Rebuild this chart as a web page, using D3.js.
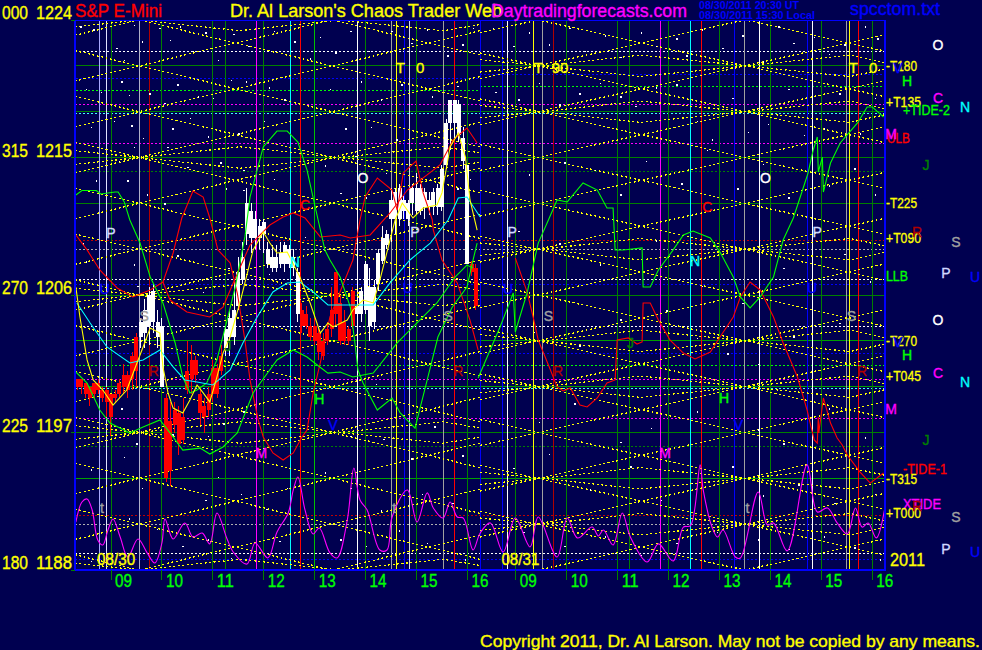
<!DOCTYPE html>
<html><head><meta charset="utf-8">
<script src="https://cdn.jsdelivr.net/npm/d3@7"></script>
<style>html,body{margin:0;padding:0;background:#000050;overflow:hidden}svg{display:block}text{font-family:"Liberation Sans",Arial,sans-serif}</style>
</head><body><svg id="c" width="982" height="650"></svg>
<script>
// session hour axis: 0 = 09:00 on 08/30, 7.95 = 09:00 on 08/31
const hourTicks = [0,1,2,3,4,5,6,7,7.95,8.95,9.95,10.95,11.95,12.95,13.95,14.95];
const hourLabels = ["09","10","11","12","13","14","15","16","09","10","11","12","13","14","15","16"];
const priceTicks = [1224,1215,1206,1197,1188];
const angleLabels = ["000","315","270","225","180"];

// horizontal levels [price, colour, dotted?, fromHour, toHour]
const solidLevels = [1221,1218,1215,1212,1206,1203,1200,1197,1194];
const solidLevelGreens = ["#008000","#008000","#008000","#008000","#008000","#00a000","#00a000","#008000","#00a000"];
const dottedLevels = [
 [1221.91,"#ffffff"],[1220.17,"#0000ff",-1,7.25],[1220.43,"#0000ff",7.25,16],[1219.39,"#00ff00",-1,7.25],[1219.62,"#00ff00",7.25,16],
 [1218.47,"#ff00ff"],[1217.9,"#40ffff"],[1215.92,"#ff00ff"],[1214.1,"#008000"],[1209.58,"#c00000"],[1209,"#b0b0b0"],
 [1207.01,"#ffffff"],[1206.68,"#0000ff"],[1203.91,"#ffffff"],[1202.18,"#0000ff"],[1201.4,"#00ff00"],[1200.48,"#ff00ff"],
 [1199.9,"#40ffff"],[1197.91,"#ff00ff"],[1196.1,"#008000"],[1191.6,"#c00000"],[1191,"#b0b0b0"],[1189.05,"#ffffff"],[1188.72,"#0000ff"]];

// vertical event lines
const eventHours = [-0.23,-0.09,0.55,0.76,2.25,2.86,3.52,3.72,4.84,5.51,5.61,5.76,5.86,6.52,6.74,7.25,7.69,7.78,8.30,8.47,8.69,10.19,10.79,11.38,11.60,12.25,12.44,12.74,13.68,13.78,14.45,14.51,14.68];
const eventColours = ["#a8a8ff","#e0e0ff","#b0b0c8","#b00000","#008000","#ff00ff","#00ffff","#ff0000","#ffffff","#a0a0a0","#ffff00","#0000ff","#d8d8e8","#a0a0a0","#ff0000","#0000ff","#0000ff","#ffffff","#ffff00","#a0a0a0","#b00000","#008000","#ff00ff","#00ffff","#ff0000","#0000ff","#a0a0a0","#ffffff","#0000ff","#ffffff","#a0a0a0","#ffff00","#ff0000"];

// yellow angle lattice, [price at section start, price at section end]
const sectionLeft = [-0.71,7.25], sectionRight = [7.25,15.2];
const fallLeft = [[1231,1224.7],[1228,1221.7],[1225,1218.7],[1222,1215.7],[1219,1212.7],[1216,1209.7],[1213,1206.7],[1210,1203.7],[1207,1200.7],[1204,1197.7],[1201,1194.7],[1198,1191.7],[1195,1188.7],[1192,1185.7],[1189,1182.7]];
const riseLeft = [[1229,1235.3],[1226,1232.3],[1223,1229.3],[1220,1226.3],[1217,1223.3],[1214,1220.3],[1211,1217.3],[1208,1214.3],[1205,1211.3],[1202,1208.3],[1199,1205.3],[1196,1202.3],[1193,1199.3],[1190,1196.3],[1187,1193.3],[1184,1190.3]];
const fallRight = [[1233.84,1227.97],[1230.84,1224.97],[1227.84,1221.97],[1224.84,1218.97],[1221.84,1215.97],[1218.84,1212.97],[1215.84,1209.97],[1212.84,1206.97],[1209.84,1203.97],[1206.84,1200.97],[1203.84,1197.97],[1200.84,1194.97],[1197.84,1191.97],[1194.84,1188.97],[1191.84,1185.97]];
const riseRight = [[1226.16,1232.03],[1223.16,1229.03],[1220.16,1226.03],[1217.16,1223.03],[1214.16,1220.03],[1211.16,1217.03],[1208.16,1214.03],[1205.16,1211.03],[1202.16,1208.03],[1199.16,1205.03],[1196.16,1202.03],[1193.16,1199.03],[1190.16,1196.03],[1187.16,1193.03],[1184.16,1190.03]];
// flatter yellow zigzags
const zigHoursLeft = [-0.71,0.55,2.53,4.48,6.52,7.25];
const zigHoursRight = [7.25,8.47,10.39,12.46,14.51,15.2];
const zigLeft = [
 [1224.45,1224,1224.7,1224,1224.7,1224.3],[1223.55,1224,1223.3,1224,1223.3,1223.7],
 [1215.45,1215,1215.7,1215,1215.7,1215.3],[1214.55,1215,1214.3,1215,1214.3,1214.7],
 [1206.45,1206,1206.7,1206,1206.7,1206.3],[1205.55,1206,1205.3,1206,1205.3,1205.7],
 [1197.45,1197,1197.7,1197,1197.7,1197.3],[1196.55,1197,1196.3,1197,1196.3,1196.7],
 [1188.45,1188,1188.7,1188,1188.7,1188.3],[1187.55,1188,1187.3,1188,1187.3,1187.7]];
const zigRight = [
 [1221.4,1221,1221.7,1221,1221.7,1221.2],[1220.6,1221,1220.3,1221,1220.3,1220.8],
 [1218.4,1218,1218.7,1218,1218.7,1218.2],[1217.6,1218,1217.3,1218,1217.3,1217.8],
 [1209.4,1209,1209.7,1209,1209.7,1209.2],[1208.6,1209,1208.3,1209,1208.3,1208.8],
 [1203.4,1203,1203.7,1203,1203.7,1203.2],[1202.6,1203,1202.3,1203,1202.3,1202.8],
 [1200.4,1200,1200.7,1200,1200.7,1200.2],[1199.6,1200,1199.3,1200,1199.3,1199.8],
 [1194.4,1194,1194.7,1194,1194.7,1194.2],[1193.6,1194,1193.3,1194,1193.3,1193.8],
 [1191.4,1191,1191.7,1191,1191.7,1191.2],[1190.6,1191,1190.3,1191,1190.3,1190.8]];

// scattered white marks [hour, price]
const dots = [[-.6,1223.6],[-.35,1223.4],[.1,1222.2],[.25,1221.4],[.45,1223.7],[.6,1222.6],[.95,1223.5],[1.15,1222.7],[1.35,1223.6],[1.6,1222],[1.85,1223.2],[2.1,1221.4],[2.4,1223.1],[2.7,1222.3],[3.2,1223.3],[3.6,1222.6],[3.9,1221.5],[-.5,1219.5],[-.2,1219.3],[.2,1220],[.35,1219.1],[.75,1219.2],[1.05,1218.6],[1.3,1219.8],[1.7,1219],[2,1218.9],[2.35,1220.1],[2.65,1220],[3.1,1219.6],[3.4,1218.8],[-.4,1217],[.05,1217.4],[.4,1217.1],[.62,1216.3],[1.2,1216.9],[1.55,1217.6],[1.9,1216.4],[2.5,1216.6],[3,1217.4],[.15,1214.8],[.45,1215.7],[1.1,1215.7],[1.5,1214.4],[2.15,1214.7],[2.6,1214.2],[3.2,1213.6],[-.3,1213.5],[.32,1213.5],[.7,1212.6],[1.05,1212],[2.25,1213],[2.6,1212.9],
[.45,1208],[.52,1206.6],[.9,1205],[1.3,1208.6],[1.8,1206.2],[2.3,1207.8],[-.55,1209.4],[-.5,1208.2],[3.1,1207.4],[3.8,1209.8],[.2,1198.6],[.5,1196.3],[1.2,1196.9],[1.9,1196.8],[2.2,1197.6],[2.6,1198.4],[-.4,1194.6],[.25,1195.4],[.6,1193.4],[1.05,1194.9],[1.85,1192.6],[2.1,1194.1],[2.55,1193],[3.05,1192],[3.45,1193.4],[.35,1191.4],[.9,1190.7],[1.4,1189.6],[1.9,1190],[2.35,1188.8],[3.3,1189.9],[-.4,1188.6],
[4.1,1222.9],[4.4,1221.9],[4.7,1223.3],[5.05,1222],[5.5,1223.3],[5.9,1222.5],[6.2,1223.4],[6.6,1221.7],[6.9,1222.4],[7.1,1223.5],[4.3,1219.5],[4.9,1220],[5.3,1218.8],[5.7,1219.8],[6.3,1219],[6.8,1219.7],[4.6,1216.9],[5.1,1217],[5.6,1216.2],[4.2,1214.5],[4.8,1215.1],[5.4,1214],[4.5,1212.7],[5,1212.4],[6.8,1213],[7.05,1213.6],[5.2,1200.2],[4.7,1196.8],[5.35,1196.6],[5.9,1195.3],[6.35,1197.4],[6.9,1195.5],[4.2,1194.4],[4.7,1193.4],[5.3,1191.9],[6.1,1193],[6.7,1192.4],[4.5,1190],[5,1189.6],[5.65,1190.6],[6.2,1189.8],[6.95,1188.7],
[7.5,1223.5],[7.9,1222.3],[8.2,1223.2],[8.6,1222.4],[9,1223.5],[9.3,1222],[9.7,1223],[10,1221.6],[10.4,1223.2],[10.7,1222.3],[11.1,1222.8],[11.3,1221.7],[11.6,1223.4],[12,1222.2],[12.4,1223],[12.8,1221.3],[13.1,1223.6],[13.4,1222.5],[13.8,1222.9],[14.1,1221.8],[14.4,1222.4],[14.8,1223.6],[15.05,1222.8],
[7.55,1219.3],[8,1218.8],[8.4,1219.9],[8.8,1218.5],[9.2,1219.2],[9.6,1219.9],[10,1219],[10.3,1218.4],[10.7,1219.6],[11.1,1219.8],[11.5,1217.4],[11.8,1216.2],[12.2,1218.9],[12.5,1216.7],[12.9,1217.2],[13.3,1219.5],[13.6,1216.5],[14,1216.9],[14.3,1219.2],[14.7,1216.6],[15,1218.9],
[8.2,1213.9],[8.9,1214.7],[9.5,1214.2],[10,1212.6],[10.5,1214.8],[11.2,1213.3],[11.7,1215.5],[12.3,1213],[12.8,1214.6],[13.3,1212.4],[14.1,1213.2],[14.6,1214.3],[15,1212.6],[8,1210.2],[8.8,1209.4],[9.6,1208],[10.7,1209.6],[11.6,1206.6],[12.4,1205.5],[13.2,1207.8],[14.4,1208.7],[14.9,1206.9],
[8.3,1203.6],[9.2,1202.7],[10,1204.4],[10.9,1205],[11.5,1203.2],[12.1,1202.2],[12.7,1201.5],[13.4,1203.3],[14.3,1204.2],[15.1,1202.6],[8.4,1197.7],[9.1,1198.9],[10,1196.4],[10.6,1197.3],[11.5,1198.4],[12.7,1197.2],[13.2,1196.3],[14.1,1198.6],[14.8,1196.7],[7.9,1194.7],[8.6,1195.6],[9.4,1193.3],[10.2,1194.8],[10.8,1192.6],[11.4,1193.7],[12.2,1194.8],[12.8,1192.9],[13.5,1193.6],[14.2,1192.4],[15,1193],[8.1,1190.5],[8.9,1189.6],[9.7,1190.2],[10.4,1189],[11.1,1189.8],[11.9,1190.5],[12.7,1190],[13.3,1189.4],[14,1190.2],[14.6,1189.5],[15.1,1188.7]];

// bars: [high, body top, body bottom, low], one every 5 minutes
const barStartHour = -0.667;
const barsPerHour = 12;
const bars = [
[1200.5,1200.5,1200,1199.75],[1200.5,1200.5,1200,1199.5],[1200.25,1200.25,1199.5,1199.25],[1200,1200,1199.25,1198.75],[1200.25,1200.25,1199.5,1199.25],[1200.5,1200.25,1199.75,1199.5],[1200,1199.75,1199.25,1199],[1200,1199.75,1199,1198],[1199.5,1199.5,1198,1196.75],[1199.75,1199.5,1199.25,1199],[1200.5,1200.25,1199.5,1199.25],[1201.5,1200.75,1200,1199.5],[1201,1200.75,1199.75,1199.25],[1202.25,1202,1200.5,1199.75],[1203.5,1203.25,1201,1200],
[1204.5,1204.25,1203.25,1202.5],[1205.75,1205,1203.5,1202.5],[1206.5,1206,1204,1202.75],[1206.75,1206.25,1204.25,1203.5],[1205,1204.25,1203.25,1202.5],[1204.5,1204,1200,1200],
[1199.5,1199.25,1194,1193.75],[1199,1197.75,1194.5,1193.5],[1199,1198.5,1197.5,1197],[1198.75,1198.25,1196.25,1195.5],[1199.25,1198,1196.5,1196.25],[1203,1201,1199.75,1199.5],[1202.75,1201.75,1200.5,1199.5],[1202,1201.75,1200.75,1200.25],[1200,1199.5,1198.25,1197.5],[1199.25,1198.75,1198,1197],[1200,1199.5,1198.5,1198],[1201.75,1201.25,1199.5,1199],[1201.5,1201.25,1199.5,1199.25],[1202.75,1202,1201,1200.75],
[1204,1203.75,1202.5,1202],[1205,1204.5,1203.25,1202],[1207,1205,1203.25,1202.75],[1208.5,1207.5,1205.25,1205],[1209.5,1208.5,1207,1206.75],[1213,1212,1210,1209.25],[1212,1211.5,1209.75,1208.75],[1211.5,1211,1209.75,1209],[1211,1210.5,1209.75,1209],[1211,1210.75,1210,1208.75],[1209.5,1209,1208,1207.75],[1209.25,1208.5,1207.75,1207.5],[1209.25,1208.5,1207.75,1207.5],[1209.5,1208.75,1208,1207.75],[1209.5,1209.25,1208,1207.5],[1209.25,1209,1208,1207.75],[1209,1208.5,1207.75,1207.25],[1207.75,1207.5,1204.75,1204.25],
[1205.5,1205,1204,1203.5],[1205.25,1204.75,1204,1203.75],[1204.5,1204,1203.25,1203],[1204.5,1204,1203,1202.75],[1203.75,1203.5,1202.25,1201.75],[1203.5,1203,1202,1201.75],[1204.25,1203.75,1203,1202.75],[1206.5,1205,1203.75,1203.25],[1207.5,1207.5,1204.75,1204],[1206,1205.5,1203,1202.75],[1205,1204.25,1203,1202.75],[1204,1203.75,1203,1202.75],[1206.5,1206.25,1204,1203.75],
[1205.75,1205.25,1204.75,1204],[1206.5,1206.25,1204.75,1204.25],[1208.25,1208,1205,1204.75],[1207.75,1206.5,1204,1203],[1207,1206.5,1204.25,1203.75],[1209,1208.75,1206.75,1206.25],[1210.5,1209.75,1208.25,1208],[1210.25,1210,1209.25,1209],[1213,1212.25,1211,1209.5],[1213,1212.75,1211,1210],[1213.25,1213,1211,1210.5],[1212.5,1212.25,1211.5,1211],[1212.25,1212,1211,1210.5],[1213.25,1213,1212,1211.25],[1214,1213,1211.5,1211.25],[1213.25,1213,1211.5,1211.25],[1213,1212.75,1211.75,1211],[1212.75,1212.25,1211.75,1211.25],[1213,1212.75,1211.75,1211.25],[1213.25,1213,1211.75,1211.25],[1214.5,1214.25,1211.75,1211.5],[1217.5,1217.25,1214.5,1214.25],[1218.75,1218.75,1217.25,1215.5],[1218.75,1218.75,1217.25,1216.25],[1218.75,1218.5,1216.5,1216],[1217,1216.25,1214.75,1214.25],[1214.5,1214.5,1208,1208],
[1208.25,1208,1207.5,1207.25],[1208,1207.75,1205.25,1205]];
const barShades = "RRRRRRRRRRRRRRRWWWWWWRRRRRRRRRRRRRRWWWWWWWWWWWWWWWWWWRRRRRRRRRRRRRWWWWWWWWWWWWWWWWWWWWWWWWWWWRR";

// tide curves [hour, price]
const tideGreenA = [[-.69,1212.55],[-.57,1212.84],[-.29,1212.84],[-.2,1212.61],[.08,1212.74],[.14,1212.74],[.26,1212.09],[.37,1210.91],[.57,1209.4],[.77,1207.18],[1.02,1205.48],[1.26,1202.86],[1.41,1200.63],[1.55,1199.59],[1.69,1199.78],[1.88,1200.24],[2.08,1201.75],[2.28,1204.36],[2.44,1206.52],[2.63,1209.8],[2.73,1212.41],[2.99,1215.69],[3.26,1216.73],[3.46,1216.73],[3.67,1216.01],[3.85,1214.18],[4.01,1211.76],[4.2,1208.95],[4.3,1208.29],[4.5,1207.18],[4.7,1205.21],[4.79,1202.86],[4.85,1201.09],[4.95,1200.24],[5.23,1198.47],[5.52,1199.26],[5.68,1198.28],[5.97,1197.29],[6.21,1200.44],[6.42,1203.25],[6.7,1205.2],[6.99,1206.52],[7.11,1208.29],[7.19,1209.4]];
const tideGreenB = [[-.69,1200.96],[-.47,1200.24],[-.22,1198.47],[-.02,1197.62],[.37,1196.97],[.63,1197.36],[.96,1197.82],[1.16,1196.97],[1.41,1195.85],[1.75,1195.98],[1.94,1195.59],[2.2,1196.05],[2.48,1196.97],[2.79,1199.59],[3.26,1201.75],[3.58,1202.4],[3.85,1201.94],[4.05,1201.42],[4.26,1200.89],[4.5,1200.96],[4.75,1200.63],[5.15,1200.89],[5.62,1202.86],[6.01,1204.17],[6.4,1205.48],[6.76,1207.18],[6.99,1207.96],[7.11,1207.77]];
const tideGreenRight = [[7.21,1200.57],[7.64,1203.91],[7.9,1206.13],[7.94,1203.58],[8.17,1206.13],[8.39,1209.4],[8.59,1210.91],[8.76,1212.22],[8.96,1212.09],[9.27,1213.33],[9.55,1212.87],[9.74,1211.69],[9.86,1211.69],[9.9,1208.95],[10.06,1208.95],[10.43,1209.08],[10.45,1206.52],[10.59,1206.52],[10.75,1207.64],[11.04,1208.95],[11.24,1209.93],[11.43,1210.19],[11.77,1209.73],[11.96,1208.81],[12.22,1207.18],[12.36,1205.87],[12.55,1205.15],[12.75,1205.87],[13.01,1207.18],[13.2,1209.6],[13.4,1211.04],[13.6,1213.07],[13.69,1213.99],[13.79,1215.49],[13.87,1216.34],[13.89,1214.05],[13.97,1215.03],[13.99,1212.74],[14.13,1214.64],[14.32,1215.95],[14.66,1217.26],[14.85,1218.31],[14.95,1218.31],[15.17,1217.65]];
const tideYellow = [[-.69,1206.52],[-.61,1204.56],[-.47,1201.75],[-.35,1200.44],[-.16,1199.78],[.04,1198.8],[.31,1199.78],[.51,1201.55],[.63,1202.6],[.77,1203.84],[.96,1203.51],[1.02,1201.29],[1.12,1199.59],[1.22,1198.6],[1.41,1198.28],[1.55,1199.13],[1.69,1200.11],[1.81,1199.59],[1.94,1199],[2.08,1200.63],[2.2,1202.2],[2.34,1203.25],[2.53,1205.48],[2.63,1206.79],[2.79,1208.95],[2.99,1210.12],[3.12,1209.4],[3.26,1208.75],[3.46,1208.81],[3.71,1207.18],[3.91,1205.48],[4.11,1203.51],[4.26,1204.17],[4.36,1203.91],[4.64,1204.36],[4.75,1205.02],[4.95,1205.67],[5.15,1205.48],[5.28,1206.98],[5.48,1209.6],[5.58,1210.91],[5.72,1212.02],[5.93,1211.04],[6.13,1211.69],[6.4,1211.89],[6.5,1212.68],[6.66,1215.69],[6.82,1216.6],[6.96,1215.03],[7.05,1212.22],[7.19,1210.25]];
const tideCyan = [[-.67,1205.48],[-.41,1204.17],[-.08,1202.6],[.37,1201.55],[.63,1201.75],[.96,1202.4],[1.22,1201.29],[1.45,1200.44],[1.69,1200.31],[2,1200.11],[2.34,1201.09],[2.59,1202.86],[2.87,1204.56],[3.18,1206.2],[3.46,1206.79],[3.71,1206.85],[3.97,1206.2],[4.26,1205.35],[4.36,1205.35],[4.83,1205.35],[5.15,1205.35],[5.48,1206.79],[5.87,1208.29],[6.27,1209.4],[6.62,1210.91],[6.82,1212.35],[6.99,1212.41],[7.25,1211.11]];
const tideRedA = [[-.69,1209.93],[-.47,1208.95],[-.22,1207.64],[.12,1206.46],[.43,1205.87],[.77,1206.33],[1.02,1206.85],[1.22,1208.75],[1.39,1211.04],[1.61,1212.81],[1.81,1212.41],[1.94,1211.04],[2.1,1208.95],[2.34,1208.1],[2.48,1206.13],[2.63,1203.05],[2.73,1200.44],[2.89,1197.82],[2.99,1196.71],[3.18,1195.66],[3.38,1195.2],[3.58,1195.66],[3.75,1196.71],[3.85,1197.16],[3.97,1199.59],[4.11,1201.55],[4.3,1204.56],[4.75,1208.29],[4.89,1210.91],[4.99,1212.41],[5.23,1213.66],[5.52,1212.87],[5.62,1211.56],[5.74,1213.99],[5.99,1214.77],[6.13,1212.68],[6.31,1210.91],[6.33,1210.25],[6.5,1208.29],[6.8,1206.79],[7.05,1204.36],[7.21,1202.4]];
const tideRedB = [[1.02,1206.85],[1.16,1205.67],[1.49,1204.89],[1.94,1204.56],[2.2,1205.21],[2.4,1206.79],[2.73,1209.27],[3.12,1210.58],[3.38,1211.11],[3.58,1211.37],[3.81,1211.04],[4.11,1209.8],[4.5,1209.93],[4.7,1209.73],[5.09,1209.93],[5.48,1211.37],[5.82,1212.87],[6.46,1214.51],[6.72,1216.15],[6.99,1216.93],[7.19,1215.95]];
const tideRedRight = [[7.94,1208.42],[8.17,1206.2],[8.29,1204.56],[8.39,1203.05],[8.63,1201.09],[8.76,1199.98],[8.88,1199.72],[9.02,1199.91],[9.21,1198.8],[9.35,1198.67],[9.55,1199.26],[9.74,1200.24],[9.9,1200.44],[9.94,1203.05],[10.16,1203.19],[10.33,1202.79],[10.43,1202.93],[10.45,1205.48],[10.59,1205.48],[10.75,1204.36],[10.98,1203.05],[11.24,1202.2],[11.47,1201.81],[11.77,1202.27],[11.96,1203.25],[12.22,1204.56],[12.36,1205.87],[12.55,1206.85],[12.75,1206.33],[13.01,1204.56],[13.2,1202.86],[13.48,1200.63],[13.67,1198.47],[13.81,1196.51],[13.87,1196.3],[13.89,1198.01],[13.9,1196.97],[13.99,1199.26],[14.13,1197.62],[14.26,1196.64],[14.36,1196.18],[14.46,1195.53],[14.71,1194.41],[14.91,1193.69],[15.17,1194.35]];
const xtide = [[-.69,1191.14],[-.57,1192.45],[-.47,1192.65],[-.37,1191.93],[-.26,1189.97],[-.16,1189.64],[-.06,1190.62],[.04,1191.34],[.18,1190.16],[.33,1188.85],[.53,1190.03],[.71,1189.12],[.86,1188.46],[1,1189.77],[1.06,1191.34],[1.22,1190.03],[1.45,1191.08],[1.61,1190.16],[1.79,1190.42],[1.94,1189.71],[2.08,1191.73],[2.28,1190.03],[2.4,1189.18],[2.67,1188.39],[2.83,1189.77],[3.08,1188.79],[3.26,1190.49],[3.48,1191.73],[3.58,1193.24],[3.67,1194.09],[3.81,1191.93],[3.97,1190.36],[4.09,1190.75],[4.3,1189.12],[4.44,1188.79],[4.64,1191.27],[4.77,1194.68],[4.89,1192.58],[5.03,1191.93],[5.28,1189.31],[5.42,1189.31],[5.52,1191.47],[5.82,1193.24],[6.01,1191.14],[6.21,1193.05],[6.33,1192.06],[6.52,1191.4],[6.66,1192.45],[6.8,1191.47],[6.92,1191.4],[7.11,1189.31],[7.25,1190.42],[7.45,1191.08],[7.7,1189.18],[7.94,1191.4],[8.23,1189.51],[8.39,1191.47],[8.76,1188.85],[8.96,1191.4],[9.16,1190.1],[9.45,1190.81],[9.57,1190.23],[9.67,1190.62],[9.86,1189.64],[10.04,1191.73],[10.2,1190.16],[10.53,1188.52],[10.75,1189.71],[11.04,1188.59],[11.24,1190.81],[11.38,1190.9],[11.57,1194.88],[11.63,1193.24],[11.81,1190.75],[11.91,1190.16],[12.02,1190.62],[12.26,1188.85],[12.36,1188.79],[12.71,1193.11],[12.89,1190.94],[13.01,1191.08],[13.28,1189.25],[13.67,1194.88],[13.87,1191.8],[14.07,1192.06],[14.26,1191.08],[14.46,1190.36],[14.62,1192.06],[14.75,1190.81],[14.87,1191.08],[15.03,1190.1],[15.19,1191.93]];

// letters on the plot [text, hour, price, colour, size]
const plotLetters = [["T",5.68,1220.86,"#ffff00",15],["0",6.07,1220.86,"#ffff00",15],["T",8.39,1220.86,"#ffff00",15],["90",8.82,1220.86,"#ffff00",15],["T",14.58,1220.86,"#ffff00",15],["0",14.97,1220.86,"#ffff00",15],
["O",4.95,1213.66,"#ffffff",14],["O",12.85,1213.66,"#ffffff",14],["P",0,1210.06,"#d0d8ff",14],["P",5.97,1210.12,"#d0d8ff",14],["P",7.88,1210.12,"#d0d8ff",14],["P",13.87,1210.12,"#d0d8ff",14],
["C",3.81,1211.89,"#ff0000",14],["C",11.71,1211.76,"#ff0000",14],["N",3.61,1208.16,"#00ffff",14],["N",11.47,1208.23,"#00ffff",14],
["U",-.12,1206.39,"#0000ff",14],["U",5.83,1206.46,"#0000ff",14],["U",7.8,1206.39,"#0000ff",14],["U",13.77,1206.46,"#0000ff",14],
["S",.65,1204.63,"#a0a0a0",14],["S",6.62,1204.63,"#a0a0a0",14],["S",8.59,1204.63,"#a0a0a0",14],["S",14.54,1204.63,"#a0a0a0",14],
["R",.84,1201.03,"#b00000",14],["R",6.82,1201.03,"#b00000",14],["R",8.78,1201.03,"#b00000",14],["R",14.75,1201.03,"#b00000",14],
["J",2.3,1202.66,"#008000",14],["J",10.2,1202.86,"#008000",14],["H",4.09,1199.19,"#00ff00",14],["H",12.04,1199.26,"#00ff00",14],
["V",4.36,1197.49,"#0000ff",14],["V",12.32,1197.49,"#0000ff",14],["M",2.95,1195.66,"#ff00ff",14],["M",10.88,1195.66,"#ff00ff",14],
["t",-.18,1192.06,"#a0a0a0",14],["t",5.56,1192.06,"#a0a0a0",14],["t",12.5,1192.06,"#a0a0a0",14],
["08/30",.1,1188.72,"#ffff00",17],["08/31",8.04,1188.72,"#ffff00",17]];

const plotLeft=75, plotRight=885, plotTop=20, plotBottom=570;
const x = d3.scaleLinear().domain([-0.707,15.2]).range([plotLeft,plotRight]);
const y = d3.scaleLinear().domain([1224,1188]).range([plotTop,plotBottom]);
const svg = d3.select("#c");
svg.append("rect").attr("width",982).attr("height",650).attr("fill","#000050");
svg.append("clipPath").attr("id","plot").append("rect").attr("x",plotLeft).attr("y",plotTop).attr("width",plotRight-plotLeft).attr("height",plotBottom-plotTop);
const g = svg.append("g").attr("clip-path","url(#plot)");
const gridG = g.append("g").attr("shape-rendering","crispEdges");

// levels
const d2 = x.domain();
gridG.selectAll(".dl").data(dottedLevels).join("line")
 .attr("x1",d=>x(d.length>2?d[2]:d2[0])).attr("x2",d=>x(d.length>2?d[3]:d2[1]))
 .attr("y1",d=>y(d[0])).attr("y2",d=>y(d[0])).attr("stroke",d=>d[1]).attr("stroke-dasharray","2 2");
gridG.selectAll(".sl").data(solidLevels).join("line")
 .attr("x1",plotLeft).attr("x2",plotRight).attr("y1",d=>y(d)).attr("y2",d=>y(d))
 .attr("stroke",(d,i)=>solidLevelGreens[i]).attr("stroke-width",1);

// lattice
const lat = g.append("g").attr("fill","none").attr("stroke","#ffff00").attr("stroke-width",1.2).attr("stroke-dasharray","2 2.5").attr("shape-rendering","crispEdges");
const seg = (a,h)=>lat.append("g").selectAll("line").data(a).join("line")
 .attr("x1",x(h[0])).attr("x2",x(h[1])).attr("y1",d=>y(d[0])).attr("y2",d=>y(d[1]));
seg(fallLeft,sectionLeft);seg(riseLeft,sectionLeft);seg(fallRight,sectionRight);seg(riseRight,sectionRight);
const zig=(rows,h)=>lat.append("g").selectAll("path").data(rows).join("path")
 .attr("d",r=>d3.line().x((v,i)=>x(h[i])).y(v=>y(v))(r));
zig(zigLeft,zigHoursLeft);zig(zigRight,zigHoursRight);

// dots
g.append("g").attr("shape-rendering","crispEdges").selectAll("rect").data(dots).join("rect")
 .attr("x",d=>x(d[0])).attr("y",d=>y(d[1])).attr("width",1.5).attr("height",1.5).attr("fill","#ffffff");

// verticals
gridG.append("g").selectAll("line").data(hourTicks).join("line")
 .attr("x1",d=>x(d)).attr("x2",d=>x(d)).attr("y1",plotTop).attr("y2",plotBottom)
 .attr("stroke",d=>d===4?"#00c000":"#008000");
gridG.append("g").selectAll("line").data(eventHours).join("line")
 .attr("x1",d=>x(d)).attr("x2",d=>x(d)).attr("y1",plotTop).attr("y2",plotBottom)
 .attr("stroke",(d,i)=>eventColours[i]);

// bars
const barX=i=>x(barStartHour+i/barsPerHour);
const barColour=i=>barShades[i]==="R"?"#ff0000":"#ffffff";
const barG=g.append("g").attr("shape-rendering","crispEdges");
barG.selectAll("line").data(bars).join("line")
 .attr("x1",(d,i)=>barX(i)).attr("x2",(d,i)=>barX(i)).attr("y1",d=>y(d[0])).attr("y2",d=>y(d[3])).attr("stroke",(d,i)=>barColour(i));
barG.selectAll("rect").data(bars).join("rect")
 .attr("x",(d,i)=>barX(i)-2).attr("width",4).attr("y",d=>y(d[1])).attr("height",d=>Math.max(1,y(d[2])-y(d[1]))).attr("fill",(d,i)=>barColour(i));

// curves
const curve=d3.line().x(d=>x(d[0])).y(d=>y(d[1]));
const smooth=d3.line().x(d=>x(d[0])).y(d=>y(d[1])).curve(d3.curveCatmullRom.alpha(0.5));
[[tideRedA,"#ff0000"],[tideRedB,"#ff0000"],[tideRedRight,"#ff0000"],[tideGreenA,"#00ff00"],[tideGreenB,"#00ff00"],[tideGreenRight,"#00ff00"],[tideCyan,"#00ffff"],[tideYellow,"#ffff00"]]
.forEach(([s,c])=>g.append("path").attr("d",curve(s)).attr("fill","none").attr("stroke",c).attr("stroke-width",1.1));
g.append("path").attr("d",smooth(xtide)).attr("fill","none").attr("stroke","#ff00ff").attr("stroke-width",1.1);

// frame
const frame=svg.append("g").attr("shape-rendering","crispEdges");
frame.append("line").attr("x1",plotLeft).attr("x2",plotLeft).attr("y1",plotTop).attr("y2",plotBottom+1).attr("stroke","#0000ff").attr("stroke-width",2);
frame.append("line").attr("x1",plotRight).attr("x2",plotRight).attr("y1",plotTop).attr("y2",plotBottom+1).attr("stroke","#0000ff").attr("stroke-width",2);
frame.append("line").attr("x1",plotLeft).attr("x2",plotRight).attr("y1",plotTop).attr("y2",plotTop).attr("stroke","#0000ff");
frame.append("line").attr("x1",plotLeft).attr("x2",plotRight).attr("y1",plotBottom).attr("y2",plotBottom).attr("stroke","#0000ff").attr("stroke-width",2);
frame.selectAll(".tx").data(hourTicks).join("line").attr("x1",d=>x(d)).attr("x2",d=>x(d)).attr("y1",plotBottom).attr("y2",plotBottom+10).attr("stroke","#008000");
frame.selectAll(".ty").data(priceTicks).join("line").attr("x1",plotLeft-4).attr("x2",plotLeft).attr("y1",d=>y(d)).attr("y2",d=>y(d)).attr("stroke","#008000");

// text
function txt(t,px,py,col,size,opt={}){
 const e=svg.append("text").text(t).attr("x",px).attr("y",py).attr("fill",col).attr("font-size",size)
  .attr("dominant-baseline","central").attr("text-anchor",opt.anchor||"start").attr("font-weight",opt.weight||"normal")
  .attr("stroke",opt.heavy?col:"none").attr("stroke-width",opt.heavy?0.35:0);
 if(opt.len) e.attr("textLength",opt.len).attr("lengthAdjust","spacingAndGlyphs");
 return e;
}
plotLetters.forEach((l,i)=>{
 const e=txt(l[0],x(l[1]),y(l[2]),l[3],l[4],{anchor:"middle",heavy:true});
 if(l[0].length===5) e.attr("textLength",38).attr("lengthAdjust","spacingAndGlyphs");
});
hourTicks.forEach((h,i)=>txt(hourLabels[i],x(h)+4,581,"#00ff00",18,{len:17,heavy:true}));
priceTicks.forEach((p,i)=>{
 txt(angleLabels[i],2,y(p)-7,"#ffff00",18,{len:26,heavy:true});
 txt(String(p),36,y(p)-7,"#ffff00",18,{len:36,heavy:true});
});
txt("S&P E-Mini",75,11,"#ff0000",18,{len:87,heavy:true});
txt("Dr. Al Larson's Chaos Trader Web",230,11,"#ffff00",18,{len:272,heavy:true});
txt("Daytradingforecasts.com",491,11,"#ff00ff",18,{len:196,heavy:true});
txt("08/30/2011 20:30 UT",699,5,"#0000ff",11,{len:100,weight:"bold"});
txt("08/30/2011 15:30 Local",699,15,"#0000ff",11,{len:116,weight:"bold"});
txt("spcctom.txt",850,9,"#0000ff",18,{len:90,heavy:true});
txt("Copyright 2011, Dr. Al Larson. May not be copied by any means.",480,641,"#ffff00",17,{len:500,heavy:true});
txt("2011",890,559,"#ffff00",19,{len:35,heavy:true});

const rightLabels=[["-T180",886,65,"#ffff00"],["+T135",886,101,"#ffff00"],["+TIDE-2",903,109,"#00ff00"],["-T225",886,202,"#ffff00"],["+T090",886,237,"#ffff00"],["LLB",886,275,"#00ff00"],["-T270",886,340,"#ffff00"],["+T045",886,375,"#ffff00"],["-TIDE-1",903,468,"#ff0000"],["-T315",886,478,"#ffff00"],["XTIDE",903,503,"#ff00ff"],["+T000",886,512,"#ffff00"],["ULB",887,137,"#ff0000"]];
const rightWidths=[31,35,47,31,35,22,31,35,44,31,38,35,23];
rightLabels.forEach((r,i)=>txt(r[0],r[1],r[2],r[3],15,{heavy:true,len:rightWidths[i]}));
const sideLetters=[["O",938,45,"#ffffff"],["V",898,68,"#0000ff"],["H",907,81,"#00ff00"],["C",938,98,"#ff00ff"],["N",965,107,"#00ffff"],["M",891,134,"#ff00ff"],["J",926,165,"#008000"],["R",917,232,"#b00000"],["S",956,242,"#a0a0a0"],["P",946,273,"#d0d8ff"],["U",975,277,"#0000ff"],["O",938,320,"#ffffff"],["V",898,342,"#0000ff"],["H",907,355,"#00ff00"],["C",938,373,"#ff00ff"],["N",965,382,"#00ffff"],["M",891,409,"#ff00ff"],["J",926,440,"#008000"],["R",917,506,"#b00000"],["S",956,517,"#a0a0a0"],["P",946,549,"#d0d8ff"],["U",975,552,"#0000ff"]];
sideLetters.forEach(l=>txt(l[0],l[1],l[2],l[3],14,{anchor:"middle",heavy:true}));
</script></body></html>
